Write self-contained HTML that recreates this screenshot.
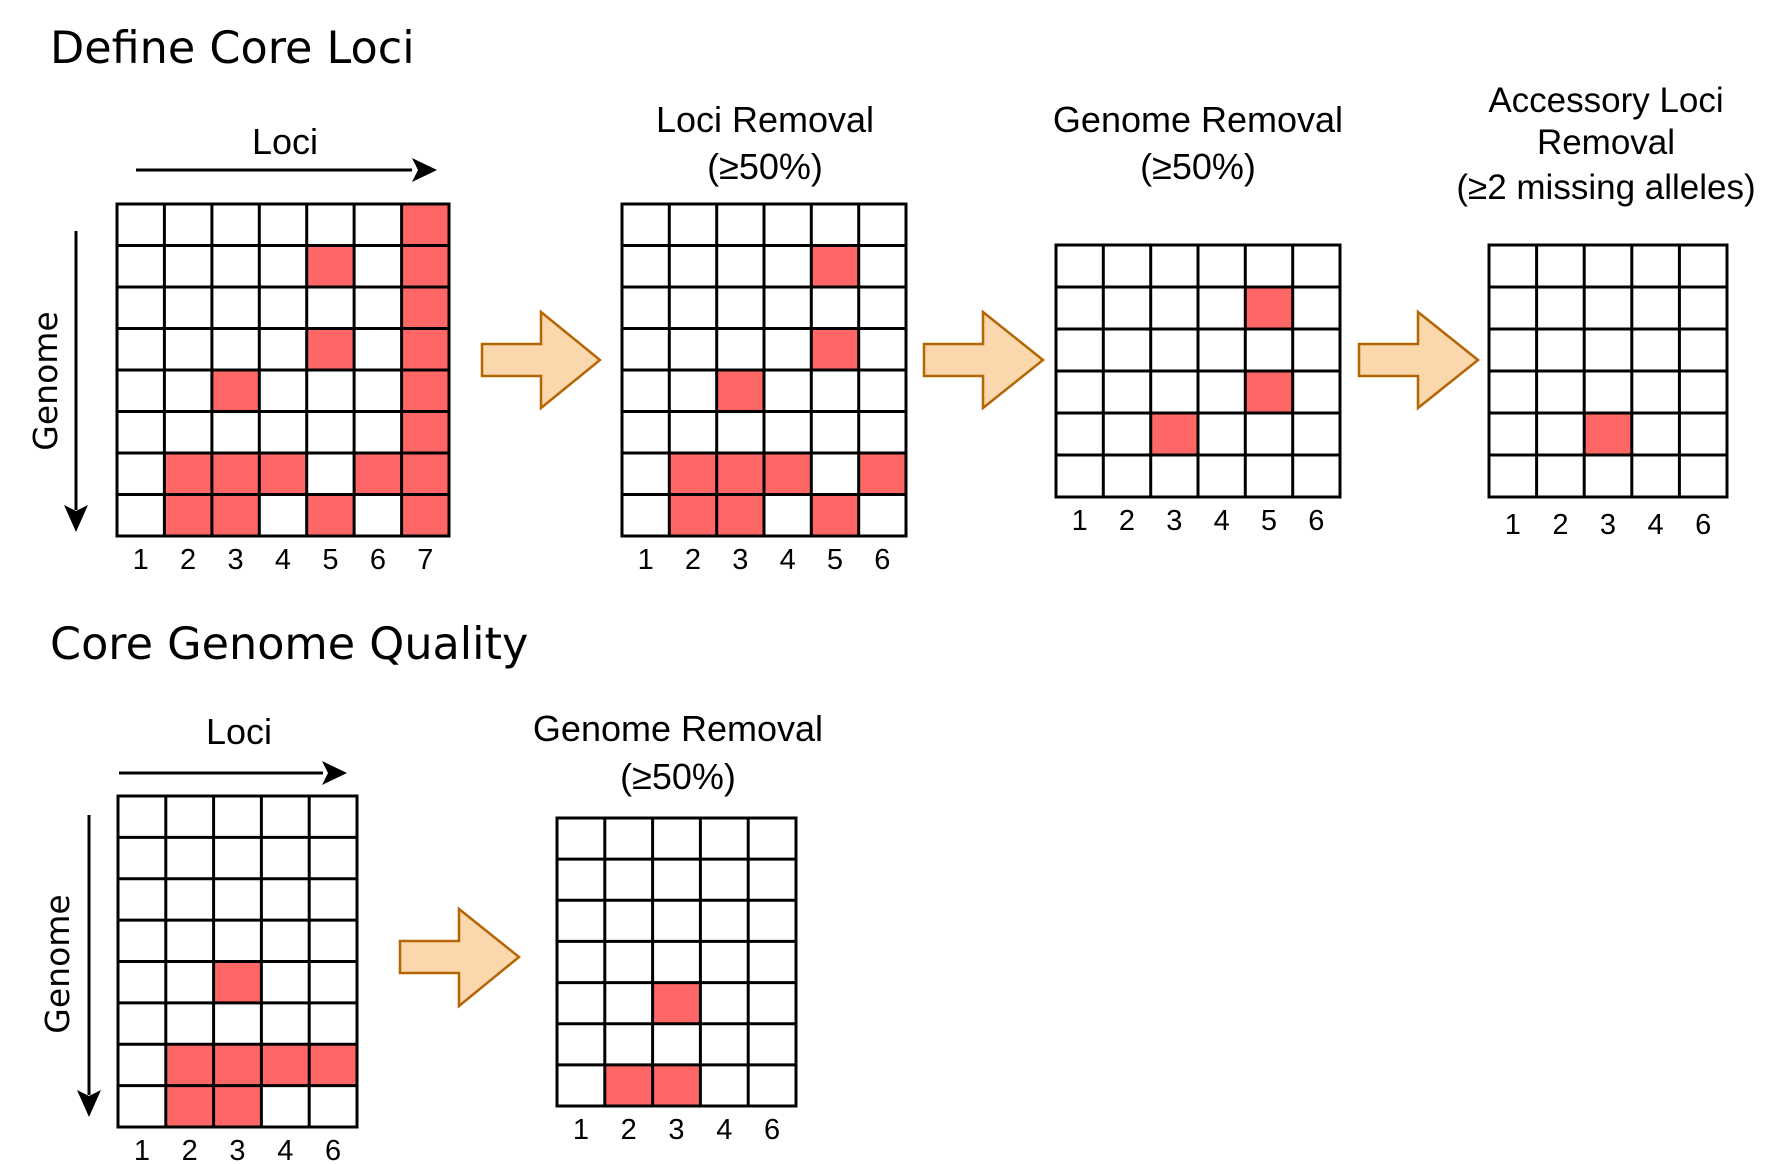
<!DOCTYPE html>
<html><head><meta charset="utf-8"><style>
html,body{margin:0;padding:0;background:#fff;}
svg{display:block;}
.t{font-family:"DejaVu Sans",sans-serif;font-size:44.5px;fill:#000;}
.l{font-family:"Liberation Sans",sans-serif;font-size:36px;fill:#000;text-anchor:middle;}
.n{font-family:"Liberation Sans",sans-serif;font-size:29px;fill:#000;text-anchor:middle;}
.g{font-family:"DejaVu Sans",sans-serif;font-size:33px;fill:#000;text-anchor:middle;}
.r{fill:#FF6666;}
.grid{fill:none;stroke:#000;stroke-width:3;}
.ar{fill:#FAD7AC;stroke:#B46504;stroke-width:2.5;}
</style></head><body>
<svg width="1773" height="1164" viewBox="0 0 1773 1164" xmlns="http://www.w3.org/2000/svg">

<text class="t" x="50" y="63">Define Core Loci</text>
<text class="t" x="50" y="659">Core Genome Quality</text>

<!-- Grid 1 -->
<text class="l" x="285" y="154">Loci</text>
<line x1="136" y1="170" x2="412" y2="170" stroke="#000" stroke-width="3"/>
<path d="M412,158 L437,170 L412,182 L418,170 z" fill="#000"/>
<line x1="76" y1="231" x2="76" y2="510" stroke="#000" stroke-width="3"/>
<path d="M64,505 L76,532 L88,505 L76,511 z" fill="#000"/>
<text class="g" transform="translate(57,381) rotate(-90)">Genome</text>
<rect class="r" x="401.6" y="204" width="47.4" height="332"/>
<rect class="r" x="306.7" y="245.5" width="47.4" height="41.5"/>
<rect class="r" x="306.7" y="328.5" width="47.4" height="41.5"/>
<rect class="r" x="211.9" y="370" width="47.4" height="41.5"/>
<rect class="r" x="164.4" y="453" width="142.3" height="41.5"/>
<rect class="r" x="354.1" y="453" width="47.5" height="41.5"/>
<rect class="r" x="164.4" y="494.5" width="94.9" height="41.5"/>
<rect class="r" x="306.7" y="494.5" width="47.4" height="41.5"/>
<path class="grid" d="M117,204H449V536H117Z M164.4,204V536 M211.9,204V536 M259.3,204V536 M306.7,204V536 M354.1,204V536 M401.6,204V536 M117,245.5H449 M117,287H449 M117,328.5H449 M117,370H449 M117,411.5H449 M117,453H449 M117,494.5H449"/>
<text class="n" y="569"><tspan x="140.7">1</tspan><tspan x="188.1">2</tspan><tspan x="235.6">3</tspan><tspan x="283">4</tspan><tspan x="330.4">5</tspan><tspan x="377.9">6</tspan><tspan x="425.3">7</tspan></text>

<polygon class="ar" points="482,344 541,344 541,312 600,360 541,408 541,376 482,376"/>

<!-- Grid 2 -->
<g transform="translate(-3,0)">
<text class="l" x="768" y="132">Loci Removal</text>
<text class="l" x="768" y="179">(≥50%)</text>
<rect class="r" x="814.3" y="245.5" width="47.4" height="41.5"/>
<rect class="r" x="814.3" y="328.5" width="47.4" height="41.5"/>
<rect class="r" x="719.7" y="370" width="47.3" height="41.5"/>
<rect class="r" x="672.3" y="453" width="142" height="41.5"/>
<rect class="r" x="861.7" y="453" width="47.3" height="41.5"/>
<rect class="r" x="672.3" y="494.5" width="94.7" height="41.5"/>
<rect class="r" x="814.3" y="494.5" width="47.4" height="41.5"/>
<path class="grid" d="M625,204H909V536H625Z M672.3,204V536 M719.7,204V536 M767,204V536 M814.3,204V536 M861.7,204V536 M625,245.5H909 M625,287H909 M625,328.5H909 M625,370H909 M625,411.5H909 M625,453H909 M625,494.5H909"/>
<text class="n" y="569"><tspan x="648.7">1</tspan><tspan x="696">2</tspan><tspan x="743.3">3</tspan><tspan x="790.7">4</tspan><tspan x="838">5</tspan><tspan x="885.3">6</tspan></text>
</g>

<polygon class="ar" transform="translate(-4,0)" points="928,344 987,344 987,312 1047,360 987,408 987,376 928,376"/>

<!-- Grid 3 -->
<g transform="translate(-7,0)">
<text class="l" x="1205" y="132">Genome Removal</text>
<text class="l" x="1205" y="179">(≥50%)</text>
<rect class="r" x="1252.3" y="287" width="47.4" height="42"/>
<rect class="r" x="1252.3" y="371" width="47.4" height="42"/>
<rect class="r" x="1157.7" y="413" width="47.3" height="42"/>
<path class="grid" d="M1063,245H1347V497H1063Z M1110.3,245V497 M1157.7,245V497 M1205,245V497 M1252.3,245V497 M1299.7,245V497 M1063,287H1347 M1063,329H1347 M1063,371H1347 M1063,413H1347 M1063,455H1347"/>
<text class="n" y="530"><tspan x="1086.7">1</tspan><tspan x="1134">2</tspan><tspan x="1181.3">3</tspan><tspan x="1228.7">4</tspan><tspan x="1276">5</tspan><tspan x="1323.3">6</tspan></text>
</g>

<polygon class="ar" transform="translate(-6,0)" points="1365,344 1424,344 1424,312 1484,360 1424,408 1424,376 1365,376"/>

<!-- Grid 4 -->
<g transform="translate(-8,0)">
<text class="l" x="1614" y="112" style="font-size:35px">Accessory Loci</text>
<text class="l" x="1614" y="154" style="font-size:35px">Removal</text>
<text class="l" x="1614" y="199" style="font-size:35px">(≥2 missing alleles)</text>
<rect class="r" x="1592.2" y="413" width="47.6" height="42"/>
<path class="grid" d="M1497,245H1735V497H1497Z M1544.6,245V497 M1592.2,245V497 M1639.8,245V497 M1687.4,245V497 M1497,287H1735 M1497,329H1735 M1497,371H1735 M1497,413H1735 M1497,455H1735"/>
<text class="n" y="534"><tspan x="1520.8">1</tspan><tspan x="1568.4">2</tspan><tspan x="1616">3</tspan><tspan x="1663.6">4</tspan><tspan x="1711.2">6</tspan></text>
</g>

<!-- Grid 5 -->
<text class="l" x="239" y="744">Loci</text>
<line x1="119" y1="773" x2="323" y2="773" stroke="#000" stroke-width="3"/>
<path d="M322,761 L347,773 L322,785 L328,773 z" fill="#000"/>
<line x1="89" y1="815" x2="89" y2="1095" stroke="#000" stroke-width="3"/>
<path d="M77,1090 L89,1117 L101,1090 L89,1096 z" fill="#000"/>
<text class="g" transform="translate(69,964) rotate(-90)">Genome</text>
<rect class="r" x="213.6" y="961.5" width="47.8" height="41.4"/>
<rect class="r" x="165.8" y="1044.3" width="191.2" height="41.3"/>
<rect class="r" x="165.8" y="1085.6" width="95.6" height="41.4"/>
<path class="grid" d="M118,796H357V1127H118Z M165.8,796V1127 M213.6,796V1127 M261.4,796V1127 M309.2,796V1127 M118,837.4H357 M118,878.8H357 M118,920.1H357 M118,961.5H357 M118,1002.9H357 M118,1044.3H357 M118,1085.6H357"/>
<text class="n" y="1160"><tspan x="141.9">1</tspan><tspan x="189.7">2</tspan><tspan x="237.5">3</tspan><tspan x="285.3">4</tspan><tspan x="333.1">6</tspan></text>

<polygon class="ar" points="400,941 459,941 459,909 519,957 459,1006 459,973 400,973"/>

<!-- Grid 6 -->
<g transform="translate(-2,0)">
<text class="l" x="680" y="741">Genome Removal</text>
<text class="l" x="680" y="789">(≥50%)</text>
<rect class="r" x="654.6" y="982.6" width="47.8" height="41.1"/>
<rect class="r" x="606.8" y="1064.9" width="95.6" height="41.1"/>
<path class="grid" d="M559,818H798V1106H559Z M606.8,818V1106 M654.6,818V1106 M702.4,818V1106 M750.2,818V1106 M559,859.1H798 M559,900.3H798 M559,941.4H798 M559,982.6H798 M559,1023.7H798 M559,1064.9H798"/>
<text class="n" y="1139"><tspan x="582.9">1</tspan><tspan x="630.7">2</tspan><tspan x="678.5">3</tspan><tspan x="726.3">4</tspan><tspan x="774.1">6</tspan></text>
</g>
</svg>
</body></html>
